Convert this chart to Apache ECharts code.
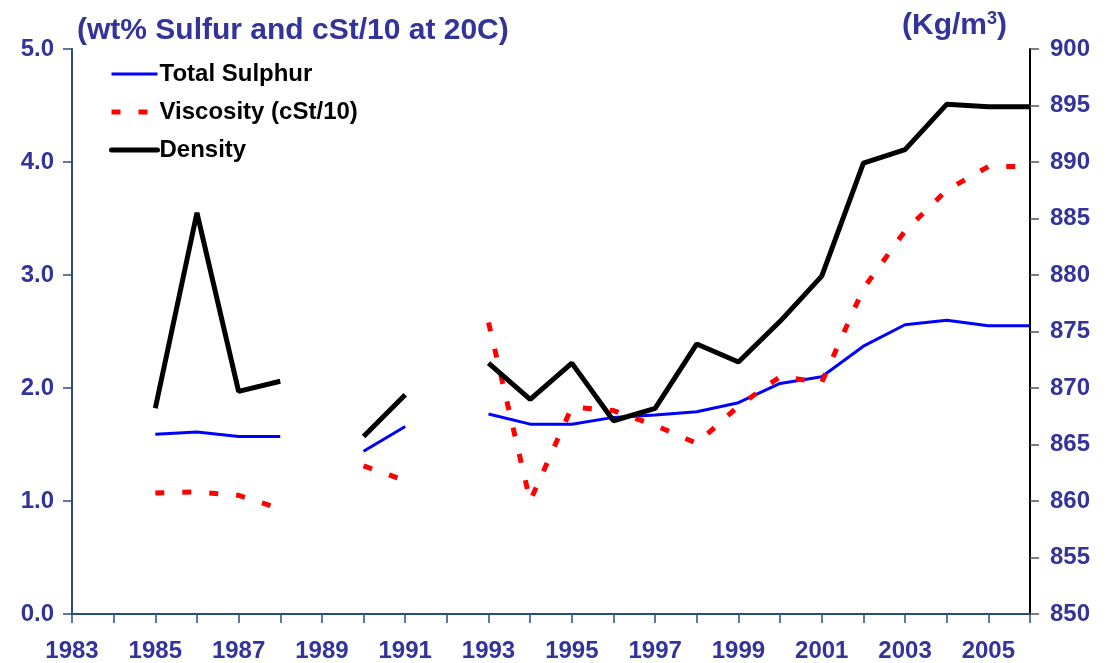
<!DOCTYPE html>
<html lang="en">
<head>
    <meta charset="UTF-8">
    <title>Sulphur, viscosity and density</title>
    <script src="https://cdn.jsdelivr.net/npm/echarts@6/dist/echarts.min.js"></script>
    <style>
        body { margin: 0; background: #fff; }
        #chart { width: 1112px; height: 663px; }
    </style>
</head>
<body>
    <div id="chart"></div>
    <script>
        // years plotted, null = no data that year
        var years = [1985, 1986, 1987, 1988, 1989, 1990, 1991, 1992, 1993, 1994, 1995,
                     1996, 1997, 1998, 1999, 2000, 2001, 2002, 2003, 2004, 2005, 2006];
        var sulphur = [1.59, 1.61, 1.57, 1.57, null, 1.44, 1.66, null, 1.77, 1.68, 1.68,
                       1.74, 1.76, 1.79, 1.87, 2.04, 2.10, 2.37, 2.56, 2.60, 2.55, 2.55];
        var viscosity = [1.07, 1.08, 1.05, 0.93, null, 1.31, 1.18, null, 2.58, 1.00, 1.83,
                         1.80, 1.67, 1.51, 1.84, 2.10, 2.05, 2.88, 3.39, 3.75, 3.96, 3.96];
        var density = [868.2, 885.5, 869.7, 870.6, null, 865.7, 869.4, null, 872.2, 869.0, 872.2,
                       867.1, 868.2, 873.9, 872.3, 875.9, 879.9, 889.9, 891.1, 895.1, 894.9, 894.9];

        var leftTitle = '(wt% Sulfur and cSt/10 at 20C)';
        var labelColor = '#333399';
        var axisBlue = '#2b4c7e';

        function pairs(vals) {
            var out = [];
            for (var i = 0; i < years.length; i++) {
                out.push([years[i], vals[i]]);
            }
            return out;
        }

        var chart = echarts.init(document.getElementById('chart'));

        var option = {
            animation: false,
            backgroundColor: '#fff',
            textStyle: { fontFamily: 'Liberation Sans, Arial, sans-serif' },
            title: [
                {
                    text: leftTitle,
                    left: 72, top: 11,
                    textStyle: { color: labelColor, fontSize: 30, fontWeight: 'bold' }
                },
                {
                    text: '(Kg/m{sup|3})',
                    right: 100, top: 5,
                    textStyle: {
                        color: labelColor, fontSize: 30, fontWeight: 'bold',
                        rich: {
                            sup: { color: labelColor, fontSize: 18, fontWeight: 'bold', verticalAlign: 'top', padding: [0, 0, 14, 0] }
                        }
                    }
                }
            ],
            legend: {
                orient: 'vertical',
                left: 104, top: 57,
                itemWidth: 46, itemHeight: 14,
                itemGap: 14,
                itemStyle: { opacity: 0 },
                textStyle: { color: '#000', fontSize: 24, fontWeight: 'bold', padding: [0, 0, 0, -3] },
                data: [
                    { name: 'Total Sulphur', lineStyle: { width: 3 } },
                    { name: 'Viscosity (cSt/10)', lineStyle: { width: 5 } },
                    { name: 'Density', lineStyle: { width: 5, cap: 'round' } }
                ]
            },
            grid: { left: 72, right: 82, top: 49, bottom: 49 },
            xAxis: {
                type: 'value',
                min: 1983, max: 2006, interval: 1,
                splitLine: { show: false },
                axisLine: { lineStyle: { color: axisBlue, width: 2 } },
                axisTick: { length: 9, lineStyle: { color: axisBlue, width: 1.5 } },
                axisLabel: {
                    margin: 25,
                    color: labelColor, fontSize: 24, fontWeight: 'bold',
                    formatter: function (v) { return v % 2 === 1 ? String(v) : ''; }
                }
            },
            yAxis: [
                {
                    type: 'value', min: 0, max: 5, interval: 1,
                    splitLine: { show: false },
                    axisLine: { show: true, lineStyle: { color: axisBlue, width: 2 } },
                    axisTick: { show: true, length: 9, lineStyle: { color: axisBlue, width: 1.5 } },
                    axisLabel: {
                        margin: 18, color: labelColor, fontSize: 24, fontWeight: 'bold',
                        formatter: function (v) { return v.toFixed(1); }
                    }
                },
                {
                    type: 'value', min: 850, max: 900, interval: 5,
                    position: 'right',
                    splitLine: { show: false },
                    axisLine: { show: true, lineStyle: { color: '#000', width: 2 } },
                    axisTick: { show: true, length: 9, lineStyle: { color: '#555', width: 1.5 } },
                    axisLabel: { margin: 20, color: labelColor, fontSize: 24, fontWeight: 'bold' }
                }
            ],
            series: [
                {
                    name: 'Total Sulphur',
                    type: 'line',
                    yAxisIndex: 0,
                    symbol: 'none',
                    connectNulls: false,
                    lineStyle: { color: '#0000ff', width: 3 },
                    itemStyle: { color: '#0000ff' },
                    data: pairs(sulphur)
                },
                {
                    name: 'Viscosity (cSt/10)',
                    type: 'line',
                    yAxisIndex: 0,
                    symbol: 'none',
                    connectNulls: false,
                    lineStyle: { color: '#ff0000', width: 5, type: [9, 18], cap: 'butt' },
                    itemStyle: { color: '#ff0000' },
                    data: pairs(viscosity)
                },
                {
                    name: 'Density',
                    type: 'line',
                    yAxisIndex: 1,
                    symbol: 'none',
                    connectNulls: false,
                    lineStyle: { color: '#000', width: 5 },
                    itemStyle: { color: '#000' },
                    data: pairs(density)
                }
            ]
        };

        chart.setOption(option);
    </script>
</body>
</html>
